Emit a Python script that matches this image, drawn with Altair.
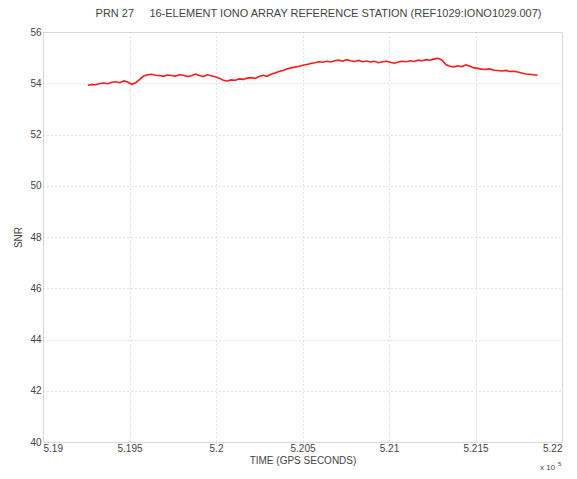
import altair as alt
import pandas as pd

# GPS time of the first sample and the sampling step (seconds)
t_start = 519260
t_step = 23

# SNR of PRN 27 at each sample (dB-Hz)
snr = [
    53.92, 53.95, 53.94, 53.99, 54.01, 53.98, 54.04, 54.06, 54.02, 54.09,
    54.05, 53.96, 54.02, 54.15, 54.28, 54.33, 54.35, 54.31, 54.30, 54.27,
    54.32, 54.30, 54.28, 54.33, 54.31, 54.26, 54.29, 54.36, 54.30, 54.26,
    54.33, 54.29, 54.25, 54.20, 54.12, 54.09, 54.13, 54.12, 54.17, 54.15,
    54.20, 54.22, 54.19, 54.26, 54.31, 54.27, 54.35, 54.40, 54.46, 54.50,
    54.56, 54.60, 54.63, 54.66, 54.70, 54.73, 54.77, 54.80, 54.84, 54.82,
    54.86, 54.83, 54.88, 54.90, 54.86, 54.92, 54.88, 54.85, 54.89, 54.84,
    54.87, 54.83, 54.86, 54.80, 54.84, 54.86, 54.82, 54.78, 54.83, 54.86,
    54.84, 54.88, 54.85, 54.90, 54.88, 54.92, 54.90, 54.95, 54.97, 54.90,
    54.72, 54.66, 54.64, 54.68, 54.65, 54.72, 54.66, 54.60, 54.58, 54.55,
    54.54, 54.56, 54.51, 54.50, 54.48, 54.50, 54.46, 54.47, 54.44, 54.40,
    54.36, 54.35, 54.33, 54.31,
]
times = [t_start + i * t_step for i in range(len(snr))]

x_ticks = [519000, 519500, 520000, 520500, 521000, 521500, 522000]
y_ticks = [40, 42, 44, 46, 48, 50, 52, 54, 56]

df = pd.DataFrame({"t": times, "snr": snr})

FONT = "Liberation Sans"
GREY = "#444444"
NBSP = "\u00a0"
TITLE = "PRN 27" + NBSP * 5 + "16-ELEMENT IONO ARRAY REFERENCE STATION (REF1029:IONO1029.007)"

line = alt.Chart(df).mark_line(color="#ff1a1a", strokeWidth=1.6).encode(
    x=alt.X(
        "t:Q",
        scale=alt.Scale(domain=[519000, 522000], nice=False, zero=False),
        axis=alt.Axis(
            values=x_ticks,
            labelExpr="datum.value / 100000",
            title="TIME (GPS SECONDS)",
            titleFontWeight="normal",
            titleFontSize=10,
            titleColor=GREY,
            titleFont=FONT,
            titlePadding=2,
            labelFont=FONT,
            labelFontSize=10,
            labelColor=GREY,
            labelPadding=1,
            tickSize=0,
            domain=False,
            grid=True,
            gridColor="#c8c8c8",
            gridDash=[1, 3],
            gridWidth=1,
        ),
    ),
    y=alt.Y(
        "snr:Q",
        scale=alt.Scale(domain=[40, 56], nice=False, zero=False),
        axis=alt.Axis(
            values=y_ticks,
            title="SNR",
            titleFontWeight="normal",
            titleFontSize=10,
            titleColor=GREY,
            titleFont=FONT,
            titlePadding=6,
            labelFont=FONT,
            labelFontSize=10,
            labelColor=GREY,
            labelPadding=2,
            tickSize=0,
            domain=False,
            grid=True,
            gridColor="#c8c8c8",
            gridDash=[1, 3],
            gridWidth=1,
        ),
    ),
)

exponent = alt.Chart(pd.DataFrame({"s": ["x 10"]})).mark_text(
    font=FONT, fontSize=8, color=GREY, align="left", baseline="middle"
).encode(x=alt.value(497), y=alt.value(436), text="s:N")

exponent_pow = alt.Chart(pd.DataFrame({"s": ["5"]})).mark_text(
    font=FONT, fontSize=6, color=GREY, align="left", baseline="middle"
).encode(x=alt.value(515), y=alt.value(432), text="s:N")

chart = (
    alt.layer(line, exponent, exponent_pow)
    .properties(
        width=519,
        height=410,
        autosize=alt.AutoSizeParams(type="none"),
        padding={"left": 43, "top": 32, "right": 15, "bottom": 37},
        title=alt.TitleParams(
            TITLE,
            font=FONT,
            fontSize=11,
            fontWeight="normal",
            color=GREY,
            anchor="middle",
            offset=8,
            dx=16,
        ),
    )
    .configure_view(stroke="#9a9a9a", strokeWidth=1.5)
    .configure(background="white")
)

chart.save("out.html", embed_options={"renderer": "svg", "actions": False})
